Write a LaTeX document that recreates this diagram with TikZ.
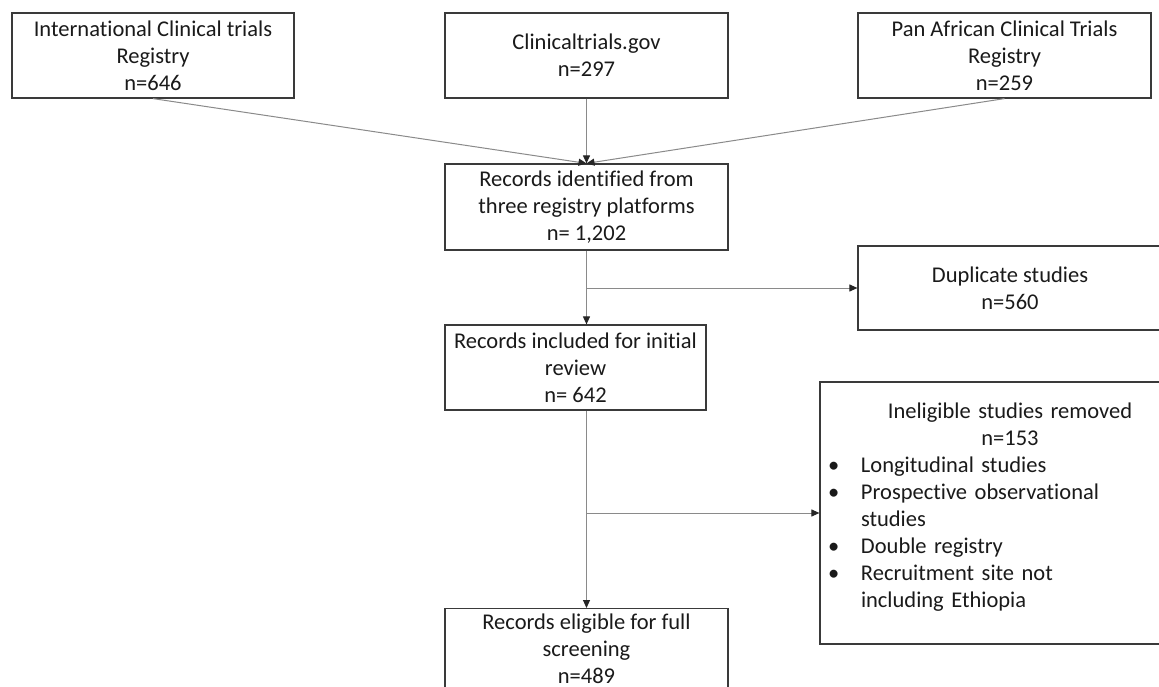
\documentclass[tikz,border=0pt]{standalone}
\usepackage{fontspec}
\setmainfont{Carlito}[Ligatures=NoCommon]
\usetikzlibrary{arrows.meta}
\definecolor{boxc}{HTML}{3A3A3A}
\definecolor{linec}{HTML}{8A8A8A}
\definecolor{txt}{HTML}{1A1A1A}
\begin{document}
\begin{tikzpicture}[x=1pt,y=-1pt,
  boxbase/.style={draw=boxc, line width=1.2pt, inner sep=0pt, text=txt,
    font=\fontsize{22.5}{27}\selectfont},
  box/.style={boxbase, align=center},
  conn/.style={draw=linec, line width=1pt},
  arr/.style={conn, -{Triangle[length=8pt,width=7pt,color=black!85]}}]
\path[use as bounding box] (0,0) rectangle (1159,687);
\clip (0,0) rectangle (1159,687);
\fill[white] (0,0) rectangle (1159,687);

\node[box, minimum width=282pt, minimum height=85pt] (ictr) at (153,55.5)
  {International Clinical trials\\Registry\\n=646};
\node[box, minimum width=283pt, minimum height=85pt] (ctg) at (586.5,55.5)
  {Clinicaltrials.gov\\n=297};
\node[box, minimum width=293pt, minimum height=85pt] (pactr) at (1004.5,55.5)
  {Pan African Clinical Trials\\Registry\\n=259};
\node[box, minimum width=283pt, minimum height=86pt] (rec) at (586.5,207)
  {Records identified from\\three registry platforms\\n= 1,202};
\node[box, minimum width=304pt, minimum height=84pt] (dup) at (1010,288)
  {Duplicate studies\\n=560};
\node[box, minimum width=261pt, minimum height=85pt] (incl) at (575.5,367.5)
  {Records included for initial\\review\\n= 642};
\node[boxbase, minimum width=380pt, minimum height=262pt, text width=364pt,
      inner xsep=8pt] (inel) at (1010,513)
  {\centering Ineligible studies removed\\n=153\par
   \raggedright
   \makebox[33pt][l]{\textbullet}Longitudinal studies\\
   \makebox[33pt][l]{\textbullet}Prospective observational\\
   \hspace*{33pt}studies\\
   \makebox[33pt][l]{\textbullet}Double registry\\
   \makebox[33pt][l]{\textbullet}Recruitment site not\\
   \hspace*{33pt}including Ethiopia\par\vspace*{12pt}};
\node[box, minimum width=283pt, minimum height=80pt, anchor=north] (elig) at (586.5,608)
  {Records eligible for full\\screening\\n=489};

\draw[arr] (ictr.south) -- (rec.north);
\draw[arr] (ctg.south) -- (rec.north);
\draw[arr] (pactr.south) -- (rec.north);
\draw[arr] (rec.south) -- (rec.south |- incl.north);
\draw[arr] (rec.south |- dup.west) -- (dup.west);
\draw[arr] (rec.south |- incl.south) -- (rec.south |- elig.north);
\draw[arr] (rec.south |- inel.west) -- (inel.west);
\end{tikzpicture}
\end{document}
